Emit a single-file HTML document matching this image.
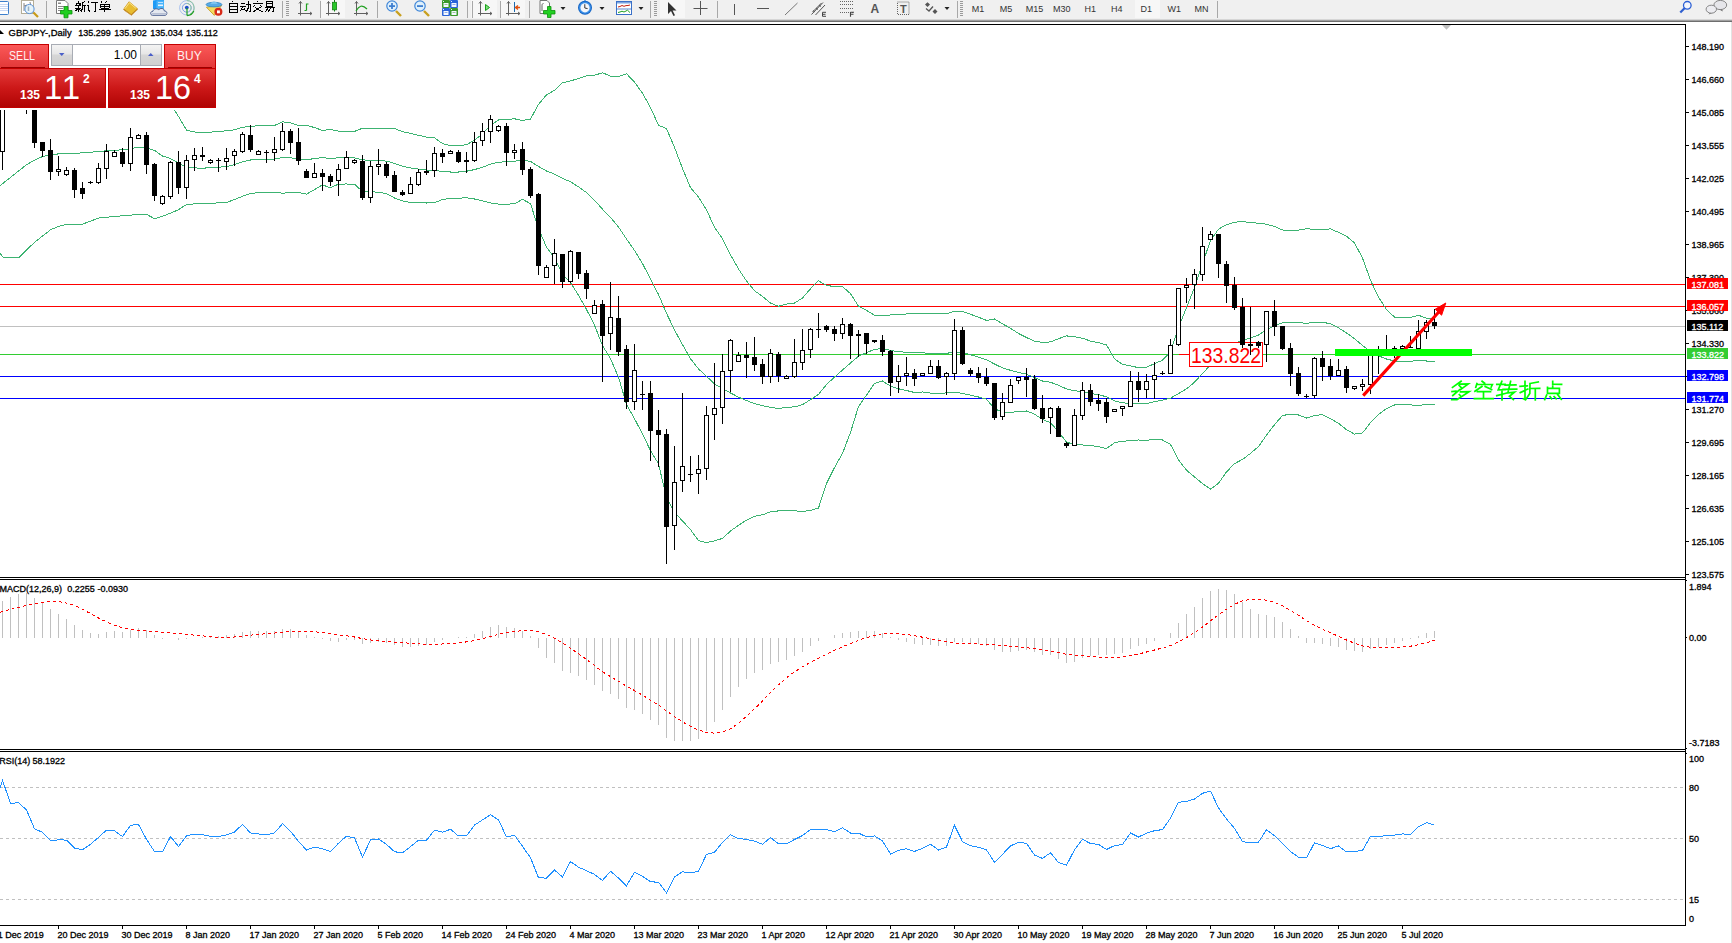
<!DOCTYPE html>
<html><head><meta charset="utf-8"><style>
html,body{margin:0;padding:0;}
body{width:1732px;height:943px;overflow:hidden;background:#fff;position:relative;font-family:"Liberation Sans", sans-serif;}
text{font-family:"Liberation Sans", sans-serif;}
#tb{position:absolute;left:0;top:0;width:1732px;height:19px;background:#f0f0f0;}
svg{position:absolute;left:0;top:0;}
</style></head><body>
<div id="tb"></div>
<svg width="1732" height="943" viewBox="0 0 1732 943">
<g shape-rendering="crispEdges">
<rect x="0" y="19" width="1732" height="1" fill="#d6d6d6"/>
<rect x="0" y="20" width="1732" height="1" fill="#a0a0a0"/>
<rect x="0" y="21" width="1732" height="1" fill="#6e6e6e"/>
<rect x="1731" y="22" width="1" height="921" fill="#e3e3e3"/>
</g>
<g shape-rendering="crispEdges"><rect x="0" y="284" width="1685" height="1" fill="#ff0000"/><rect x="0" y="306" width="1685" height="1" fill="#ff0000"/><rect x="0" y="326" width="1685" height="1" fill="#c0c0c0"/><rect x="0" y="354" width="1685" height="1" fill="#32cd32"/><rect x="0" y="376" width="1685" height="1" fill="#0000ff"/><rect x="0" y="398" width="1685" height="1" fill="#0000ff"/></g>
<g shape-rendering="crispEdges"><polyline points="0,185.7 2.5,183.7 10.5,177.4 18.5,171.1 26.5,164.8 34.5,160.1 42.5,156.6 50.5,154.8 58.5,153.9 66.5,153.6 74.5,153.2 82.5,152.9 90.5,152.3 98.5,151.5 106.5,150.8 114.5,150.3 122.5,149.8 130.5,148.6 138.5,147.3 146.5,147.9 154.5,150.4 162.5,156 170.5,158.6 178.5,163.1 186.5,167.3 194.5,167.9 202.5,168.2 210.5,167.7 218.5,167.2 226.5,166.6 234.5,164.7 242.5,161.7 250.5,160 258.5,159.2 266.5,159.3 274.5,159.1 282.5,157.5 290.5,157.8 298.5,159 306.5,159.7 314.5,158.6 322.5,157.6 330.5,158.6 338.5,157.7 346.5,157.6 354.5,157.8 362.5,159.9 370.5,160.2 378.5,160.3 386.5,161.2 394.5,163.3 402.5,166.3 410.5,168 418.5,169.1 426.5,170.1 434.5,170.3 442.5,171.5 450.5,172 458.5,172 466.5,171.2 474.5,169.6 482.5,167.3 490.5,164.2 498.5,162.1 506.5,161.9 514.5,161.3 522.5,159.9 530.5,161.4 538.5,166.5 546.5,171 554.5,174.1 562.5,178.4 570.5,181.8 578.5,186.8 586.5,192.6 594.5,200.2 602.5,209.2 610.5,217.5 618.5,226.9 626.5,239 634.5,250.4 642.5,263.5 650.5,279.1 658.5,294.5 666.5,313.3 674.5,329.9 682.5,344.7 690.5,358.7 698.5,368.9 706.5,376.3 714.5,384 722.5,388.5 730.5,393 738.5,397.1 746.5,400.6 754.5,403.5 762.5,405.6 770.5,407.4 778.5,408.6 786.5,407.3 794.5,406.9 802.5,404.7 810.5,399.6 818.5,394.4 826.5,384.5 834.5,377.1 842.5,370 850.5,363 858.5,356.3 866.5,352.7 874.5,349.4 882.5,348.4 890.5,350.5 898.5,351.6 906.5,352.3 914.5,353 922.5,352.8 930.5,353.4 938.5,353.5 946.5,353.4 954.5,351.8 962.5,352.5 970.5,354.7 978.5,357.1 986.5,359.8 994.5,364 1002.5,367.9 1010.5,370.3 1018.5,372.4 1026.5,374.2 1034.5,377.6 1042.5,381 1050.5,382.2 1058.5,385.3 1066.5,388.9 1074.5,390.8 1082.5,391.6 1090.5,393.4 1098.5,394.7 1106.5,396.8 1114.5,400.8 1122.5,402.9 1130.5,403.2 1138.5,403.8 1146.5,403.7 1154.5,401.6 1162.5,400.1 1170.5,398.1 1178.5,393.6 1186.5,388.9 1194.5,382.2 1202.5,373.5 1210.5,364.9 1218.5,356.2 1226.5,348.3 1234.5,342.9 1242.5,340.6 1250.5,337.9 1258.5,335 1266.5,329.7 1274.5,325.6 1282.5,322.7 1290.5,322.4 1298.5,322.6 1306.5,323.3 1314.5,322.5 1322.5,322.2 1330.5,323.8 1338.5,327.8 1346.5,333 1354.5,338.6 1362.5,345.5 1370.5,351.4 1378.5,355.8 1386.5,359 1394.5,361 1402.5,361.1 1410.5,361.2 1418.5,360.5 1426.5,361 1434.5,361" fill="none" stroke="#3cb371" stroke-width="1" /><polyline points="0,118.5 2.5,110.5 10.5,97 18.5,84.4 26.5,79.5 34.5,77.9 42.5,77.2 50.5,79.9 58.5,81.4 66.5,82.8 74.5,82.2 82.5,81.6 90.5,83.5 98.5,84.9 106.5,84.3 114.5,84.1 122.5,83.9 130.5,82.2 138.5,80.1 146.5,81.6 154.5,82.2 162.5,95.7 170.5,104.1 178.5,116.5 186.5,130.1 194.5,132 202.5,132.8 210.5,132.1 218.5,131.6 226.5,130.7 234.5,129.9 242.5,127.2 250.5,126.5 258.5,125.7 266.5,125.8 274.5,125.5 282.5,121.9 290.5,122.7 298.5,125.6 306.5,125.3 314.5,127.6 322.5,130.4 330.5,129.5 338.5,131.2 346.5,131.1 354.5,131.4 362.5,128.2 370.5,128.4 378.5,128.5 386.5,128.8 394.5,128.5 402.5,131.6 410.5,133.4 418.5,135.3 426.5,137.1 434.5,137.8 442.5,143.6 450.5,145.6 458.5,145.7 466.5,144.7 474.5,140.3 482.5,133.8 490.5,125.4 498.5,120 506.5,119.6 514.5,118.8 522.5,120.5 530.5,119.1 538.5,104.3 546.5,94.9 554.5,90.3 562.5,82.7 570.5,80.9 578.5,78.5 586.5,75.9 594.5,75.2 602.5,72.8 610.5,76.1 618.5,76.6 626.5,73.7 634.5,82 642.5,93.3 650.5,107.5 658.5,125.2 666.5,128.7 674.5,147.3 682.5,168.5 690.5,187.7 698.5,197 706.5,209.9 714.5,227.2 722.5,238.7 730.5,254.9 738.5,268.9 746.5,280.9 754.5,290.7 762.5,296.4 770.5,303 778.5,306.3 786.5,304.1 794.5,303.1 802.5,298 810.5,288.8 818.5,280.8 826.5,285.4 834.5,286.6 842.5,286.6 850.5,293.7 858.5,306.2 866.5,310.3 874.5,315.3 882.5,315.8 890.5,315 898.5,314.3 906.5,314 914.5,313.4 922.5,313.6 930.5,313.8 938.5,313.6 946.5,313.8 954.5,311.2 962.5,311.6 970.5,314.3 978.5,317.2 986.5,320.4 994.5,319 1002.5,323.8 1010.5,328.3 1018.5,333.5 1026.5,337.5 1034.5,341.2 1042.5,342.4 1050.5,341.9 1058.5,338.7 1066.5,335.9 1074.5,336.8 1082.5,338.2 1090.5,341.1 1098.5,342.7 1106.5,345 1114.5,358.8 1122.5,364.5 1130.5,365.8 1138.5,367.7 1146.5,367.2 1154.5,363.7 1162.5,360.2 1170.5,351.7 1178.5,327.3 1186.5,307.6 1194.5,287.4 1202.5,263.5 1210.5,240.6 1218.5,229.1 1226.5,224.7 1234.5,222.1 1242.5,221.8 1250.5,222.3 1258.5,223.3 1266.5,224.2 1274.5,226.5 1282.5,230 1290.5,230.5 1298.5,230.1 1306.5,228.7 1314.5,229.4 1322.5,229.8 1330.5,228.8 1338.5,232.4 1346.5,236.2 1354.5,243 1362.5,258 1370.5,280.2 1378.5,297.1 1386.5,309.5 1394.5,317.1 1402.5,317.3 1410.5,317.5 1418.5,315.3 1426.5,318.1 1434.5,318" fill="none" stroke="#3cb371" stroke-width="1" /><polyline points="0,252.9 2.5,257 10.5,257.8 18.5,257.8 26.5,250.1 34.5,242.3 42.5,236.1 50.5,229.8 58.5,226.4 66.5,224.4 74.5,224.2 82.5,224.1 90.5,221.2 98.5,218.1 106.5,217.3 114.5,216.5 122.5,215.8 130.5,215.1 138.5,214.5 146.5,214.3 154.5,218.7 162.5,216.2 170.5,213.2 178.5,209.7 186.5,204.5 194.5,203.9 202.5,203.7 210.5,203.2 218.5,202.9 226.5,202.5 234.5,199.5 242.5,196.3 250.5,193.5 258.5,192.7 266.5,192.7 274.5,192.7 282.5,193.1 290.5,192.8 298.5,192.5 306.5,194.2 314.5,189.6 322.5,184.9 330.5,187.8 338.5,184.1 346.5,184 354.5,184.2 362.5,191.5 370.5,191.9 378.5,192.1 386.5,193.7 394.5,198 402.5,200.9 410.5,202.6 418.5,202.8 426.5,203 434.5,202.7 442.5,199.5 450.5,198.4 458.5,198.3 466.5,197.7 474.5,199 482.5,200.9 490.5,203 498.5,204.1 506.5,204.1 514.5,203.9 522.5,199.3 530.5,203.7 538.5,228.6 546.5,247.2 554.5,257.9 562.5,274.2 570.5,282.6 578.5,295.2 586.5,309.4 594.5,325.2 602.5,345.5 610.5,358.8 618.5,377.2 626.5,404.3 634.5,418.8 642.5,433.8 650.5,450.7 658.5,463.8 666.5,497.9 674.5,512.5 682.5,520.9 690.5,529.6 698.5,540.7 706.5,542.6 714.5,540.9 722.5,538.4 730.5,531.1 738.5,525.2 746.5,520.2 754.5,516.3 762.5,514.8 770.5,511.8 778.5,510.9 786.5,510.6 794.5,510.8 802.5,511.4 810.5,510.5 818.5,508 826.5,483.6 834.5,467.6 842.5,453.4 850.5,432.4 858.5,406.5 866.5,395.2 874.5,383.5 882.5,381 890.5,386.1 898.5,388.8 906.5,390.5 914.5,392.5 922.5,392 930.5,393.1 938.5,393.4 946.5,392.9 954.5,392.3 962.5,393.4 970.5,395.1 978.5,397 986.5,399.2 994.5,408.9 1002.5,411.9 1010.5,412.4 1018.5,411.4 1026.5,411 1034.5,414.1 1042.5,419.5 1050.5,422.6 1058.5,431.9 1066.5,442 1074.5,444.7 1082.5,445 1090.5,445.6 1098.5,446.6 1106.5,448.6 1114.5,442.7 1122.5,441.3 1130.5,440.7 1138.5,440 1146.5,440.2 1154.5,439.5 1162.5,440 1170.5,444.4 1178.5,459.9 1186.5,470.2 1194.5,476.9 1202.5,483.6 1210.5,489.1 1218.5,483.3 1226.5,471.9 1234.5,463.7 1242.5,459.4 1250.5,453.4 1258.5,446.6 1266.5,435.2 1274.5,424.7 1282.5,415.5 1290.5,414.2 1298.5,415 1306.5,418 1314.5,415.5 1322.5,414.6 1330.5,418.7 1338.5,423.3 1346.5,429.7 1354.5,434.1 1362.5,433 1370.5,422.5 1378.5,414.5 1386.5,408.5 1394.5,405 1402.5,404.9 1410.5,404.9 1418.5,405.7 1426.5,404 1434.5,404" fill="none" stroke="#3cb371" stroke-width="1" /></g>
<g shape-rendering="crispEdges">
<rect x="1179" y="354" width="11" height="1" fill="#ff0000"/>
<rect x="1189.5" y="342.5" width="73" height="24" fill="#fff" stroke="#ff0000" stroke-width="1"/>
</g>
<text x="1191" y="363" font-size="22" fill="#ff0000" class="pt" textLength="70" lengthAdjust="spacingAndGlyphs">133.822</text>
<g shape-rendering="crispEdges"><g fill="#000"><rect x="2" y="60" width="1" height="110"/><rect x="0" y="100" width="5" height="52"/><rect x="1" y="101" width="3" height="50" fill="#fff"/><rect x="10" y="60" width="1" height="42"/><rect x="8" y="70" width="5" height="25"/><rect x="9" y="71" width="3" height="23" fill="#fff"/><rect x="18" y="62" width="1" height="38"/><rect x="16" y="70" width="5" height="22"/><rect x="26" y="110" width="1" height="4"/><rect x="24" y="103" width="5" height="1"/><rect x="34" y="110" width="1" height="38"/><rect x="32" y="110" width="5" height="33"/><rect x="42" y="142" width="1" height="15"/><rect x="40" y="142" width="5" height="9"/><rect x="50" y="139" width="1" height="41"/><rect x="48" y="150" width="5" height="22"/><rect x="58" y="156" width="1" height="20"/><rect x="56" y="169" width="5" height="3"/><rect x="57" y="170" width="3" height="1" fill="#fff"/><rect x="66" y="167" width="1" height="9"/><rect x="64" y="170" width="5" height="5"/><rect x="65" y="171" width="3" height="3" fill="#fff"/><rect x="74" y="168" width="1" height="30"/><rect x="72" y="170" width="5" height="20"/><rect x="82" y="182" width="1" height="17"/><rect x="80" y="188" width="5" height="6"/><rect x="90" y="181" width="1" height="3"/><rect x="88" y="182" width="5" height="1"/><rect x="98" y="163" width="1" height="21"/><rect x="96" y="168" width="5" height="15"/><rect x="97" y="169" width="3" height="13" fill="#fff"/><rect x="106" y="144" width="1" height="35"/><rect x="104" y="151" width="5" height="18"/><rect x="105" y="152" width="3" height="16" fill="#fff"/><rect x="114" y="150" width="1" height="7"/><rect x="112" y="152" width="5" height="5"/><rect x="113" y="153" width="3" height="3" fill="#fff"/><rect x="122" y="148" width="1" height="19"/><rect x="120" y="152" width="5" height="12"/><rect x="130" y="128" width="1" height="43"/><rect x="128" y="137" width="5" height="27"/><rect x="129" y="138" width="3" height="25" fill="#fff"/><rect x="138" y="134" width="1" height="5"/><rect x="136" y="135" width="5" height="4"/><rect x="137" y="136" width="3" height="2" fill="#fff"/><rect x="146" y="132" width="1" height="42"/><rect x="144" y="135" width="5" height="30"/><rect x="154" y="163" width="1" height="38"/><rect x="152" y="164" width="5" height="32"/><rect x="162" y="195" width="1" height="10"/><rect x="160" y="196" width="5" height="8"/><rect x="161" y="197" width="3" height="6" fill="#fff"/><rect x="170" y="161" width="1" height="38"/><rect x="168" y="162" width="5" height="35"/><rect x="169" y="163" width="3" height="33" fill="#fff"/><rect x="178" y="151" width="1" height="43"/><rect x="176" y="162" width="5" height="26"/><rect x="186" y="155" width="1" height="44"/><rect x="184" y="160" width="5" height="28"/><rect x="185" y="161" width="3" height="26" fill="#fff"/><rect x="194" y="148" width="1" height="23"/><rect x="192" y="155" width="5" height="5"/><rect x="193" y="156" width="3" height="3" fill="#fff"/><rect x="202" y="147" width="1" height="14"/><rect x="200" y="155" width="5" height="2"/><rect x="210" y="159" width="1" height="5"/><rect x="208" y="160" width="5" height="3"/><rect x="209" y="161" width="3" height="1" fill="#fff"/><rect x="218" y="158" width="1" height="14"/><rect x="216" y="160" width="5" height="1"/><rect x="226" y="148" width="1" height="22"/><rect x="224" y="158" width="5" height="4"/><rect x="225" y="159" width="3" height="2" fill="#fff"/><rect x="234" y="149" width="1" height="17"/><rect x="232" y="151" width="5" height="5"/><rect x="233" y="152" width="3" height="3" fill="#fff"/><rect x="242" y="132" width="1" height="21"/><rect x="240" y="134" width="5" height="18"/><rect x="241" y="135" width="3" height="16" fill="#fff"/><rect x="250" y="125" width="1" height="27"/><rect x="248" y="135" width="5" height="15"/><rect x="258" y="150" width="1" height="5"/><rect x="256" y="151" width="5" height="4"/><rect x="257" y="152" width="3" height="2" fill="#fff"/><rect x="266" y="150" width="1" height="13"/><rect x="264" y="152" width="5" height="1"/><rect x="274" y="137" width="1" height="24"/><rect x="272" y="149" width="5" height="4"/><rect x="273" y="150" width="3" height="2" fill="#fff"/><rect x="282" y="123" width="1" height="28"/><rect x="280" y="131" width="5" height="19"/><rect x="281" y="132" width="3" height="17" fill="#fff"/><rect x="290" y="129" width="1" height="25"/><rect x="288" y="131" width="5" height="12"/><rect x="298" y="128" width="1" height="37"/><rect x="296" y="142" width="5" height="19"/><rect x="306" y="169" width="1" height="9"/><rect x="304" y="171" width="5" height="7"/><rect x="314" y="163" width="1" height="15"/><rect x="312" y="173" width="5" height="5"/><rect x="313" y="174" width="3" height="3" fill="#fff"/><rect x="322" y="169" width="1" height="22"/><rect x="320" y="173" width="5" height="4"/><rect x="330" y="174" width="1" height="12"/><rect x="328" y="176" width="5" height="6"/><rect x="338" y="164" width="1" height="32"/><rect x="336" y="169" width="5" height="12"/><rect x="337" y="170" width="3" height="10" fill="#fff"/><rect x="346" y="151" width="1" height="18"/><rect x="344" y="157" width="5" height="12"/><rect x="345" y="158" width="3" height="10" fill="#fff"/><rect x="354" y="159" width="1" height="5"/><rect x="352" y="160" width="5" height="3"/><rect x="353" y="161" width="3" height="1" fill="#fff"/><rect x="362" y="155" width="1" height="45"/><rect x="360" y="161" width="5" height="37"/><rect x="370" y="161" width="1" height="42"/><rect x="368" y="166" width="5" height="32"/><rect x="369" y="167" width="3" height="30" fill="#fff"/><rect x="378" y="149" width="1" height="26"/><rect x="376" y="164" width="5" height="3"/><rect x="377" y="165" width="3" height="1" fill="#fff"/><rect x="386" y="162" width="1" height="16"/><rect x="384" y="164" width="5" height="12"/><rect x="394" y="171" width="1" height="21"/><rect x="392" y="175" width="5" height="17"/><rect x="402" y="190" width="1" height="6"/><rect x="400" y="192" width="5" height="3"/><rect x="410" y="177" width="1" height="17"/><rect x="408" y="184" width="5" height="10"/><rect x="409" y="185" width="3" height="8" fill="#fff"/><rect x="418" y="169" width="1" height="17"/><rect x="416" y="172" width="5" height="13"/><rect x="417" y="173" width="3" height="11" fill="#fff"/><rect x="426" y="160" width="1" height="15"/><rect x="424" y="171" width="5" height="2"/><rect x="434" y="147" width="1" height="30"/><rect x="432" y="153" width="5" height="18"/><rect x="433" y="154" width="3" height="16" fill="#fff"/><rect x="442" y="149" width="1" height="14"/><rect x="440" y="153" width="5" height="4"/><rect x="450" y="150" width="1" height="4"/><rect x="448" y="151" width="5" height="3"/><rect x="449" y="152" width="3" height="1" fill="#fff"/><rect x="458" y="150" width="1" height="13"/><rect x="456" y="152" width="5" height="10"/><rect x="466" y="152" width="1" height="21"/><rect x="464" y="160" width="5" height="2"/><rect x="474" y="132" width="1" height="30"/><rect x="472" y="142" width="5" height="19"/><rect x="473" y="143" width="3" height="17" fill="#fff"/><rect x="482" y="123" width="1" height="23"/><rect x="480" y="131" width="5" height="10"/><rect x="481" y="132" width="3" height="8" fill="#fff"/><rect x="490" y="115" width="1" height="28"/><rect x="488" y="119" width="5" height="13"/><rect x="489" y="120" width="3" height="11" fill="#fff"/><rect x="498" y="125" width="1" height="7"/><rect x="496" y="126" width="5" height="5"/><rect x="497" y="127" width="3" height="3" fill="#fff"/><rect x="506" y="123" width="1" height="43"/><rect x="504" y="126" width="5" height="27"/><rect x="514" y="144" width="1" height="15"/><rect x="512" y="150" width="5" height="3"/><rect x="513" y="151" width="3" height="1" fill="#fff"/><rect x="522" y="142" width="1" height="33"/><rect x="520" y="149" width="5" height="21"/><rect x="530" y="167" width="1" height="31"/><rect x="528" y="169" width="5" height="27"/><rect x="538" y="193" width="1" height="82"/><rect x="536" y="194" width="5" height="72"/><rect x="546" y="265" width="1" height="13"/><rect x="544" y="267" width="5" height="11"/><rect x="545" y="268" width="3" height="9" fill="#fff"/><rect x="554" y="239" width="1" height="45"/><rect x="552" y="253" width="5" height="13"/><rect x="553" y="254" width="3" height="11" fill="#fff"/><rect x="562" y="254" width="1" height="34"/><rect x="560" y="254" width="5" height="28"/><rect x="570" y="250" width="1" height="33"/><rect x="568" y="251" width="5" height="31"/><rect x="569" y="252" width="3" height="29" fill="#fff"/><rect x="578" y="252" width="1" height="27"/><rect x="576" y="252" width="5" height="22"/><rect x="586" y="270" width="1" height="29"/><rect x="584" y="273" width="5" height="16"/><rect x="594" y="300" width="1" height="14"/><rect x="592" y="305" width="5" height="9"/><rect x="593" y="306" width="3" height="7" fill="#fff"/><rect x="602" y="300" width="1" height="82"/><rect x="600" y="304" width="5" height="32"/><rect x="610" y="282" width="1" height="68"/><rect x="608" y="317" width="5" height="17"/><rect x="609" y="318" width="3" height="15" fill="#fff"/><rect x="618" y="296" width="1" height="60"/><rect x="616" y="318" width="5" height="34"/><rect x="626" y="345" width="1" height="64"/><rect x="624" y="349" width="5" height="53"/><rect x="634" y="344" width="1" height="66"/><rect x="632" y="370" width="5" height="32"/><rect x="633" y="371" width="3" height="30" fill="#fff"/><rect x="642" y="381" width="1" height="29"/><rect x="640" y="394" width="5" height="1"/><rect x="650" y="381" width="1" height="80"/><rect x="648" y="393" width="5" height="38"/><rect x="658" y="410" width="1" height="57"/><rect x="656" y="430" width="5" height="5"/><rect x="666" y="429" width="1" height="135"/><rect x="664" y="434" width="5" height="93"/><rect x="674" y="446" width="1" height="104"/><rect x="672" y="482" width="5" height="44"/><rect x="673" y="483" width="3" height="42" fill="#fff"/><rect x="682" y="393" width="1" height="99"/><rect x="680" y="466" width="5" height="15"/><rect x="681" y="467" width="3" height="13" fill="#fff"/><rect x="690" y="456" width="1" height="26"/><rect x="688" y="474" width="5" height="1"/><rect x="698" y="455" width="1" height="39"/><rect x="696" y="469" width="5" height="5"/><rect x="697" y="470" width="3" height="3" fill="#fff"/><rect x="706" y="406" width="1" height="74"/><rect x="704" y="415" width="5" height="54"/><rect x="705" y="416" width="3" height="52" fill="#fff"/><rect x="714" y="363" width="1" height="77"/><rect x="712" y="408" width="5" height="7"/><rect x="713" y="409" width="3" height="5" fill="#fff"/><rect x="722" y="354" width="1" height="70"/><rect x="720" y="371" width="5" height="37"/><rect x="721" y="372" width="3" height="35" fill="#fff"/><rect x="730" y="339" width="1" height="53"/><rect x="728" y="340" width="5" height="31"/><rect x="729" y="341" width="3" height="29" fill="#fff"/><rect x="738" y="352" width="1" height="10"/><rect x="736" y="355" width="5" height="7"/><rect x="737" y="356" width="3" height="5" fill="#fff"/><rect x="746" y="342" width="1" height="36"/><rect x="744" y="355" width="5" height="3"/><rect x="754" y="337" width="1" height="34"/><rect x="752" y="357" width="5" height="8"/><rect x="762" y="359" width="1" height="25"/><rect x="760" y="364" width="5" height="13"/><rect x="770" y="349" width="1" height="34"/><rect x="768" y="353" width="5" height="24"/><rect x="769" y="354" width="3" height="22" fill="#fff"/><rect x="778" y="352" width="1" height="30"/><rect x="776" y="354" width="5" height="22"/><rect x="786" y="375" width="1" height="4"/><rect x="784" y="376" width="5" height="3"/><rect x="785" y="377" width="3" height="1" fill="#fff"/><rect x="794" y="339" width="1" height="39"/><rect x="792" y="362" width="5" height="15"/><rect x="793" y="363" width="3" height="13" fill="#fff"/><rect x="802" y="329" width="1" height="41"/><rect x="800" y="350" width="5" height="13"/><rect x="801" y="351" width="3" height="11" fill="#fff"/><rect x="810" y="328" width="1" height="30"/><rect x="808" y="329" width="5" height="21"/><rect x="809" y="330" width="3" height="19" fill="#fff"/><rect x="818" y="313" width="1" height="25"/><rect x="816" y="329" width="5" height="1"/><rect x="826" y="325" width="1" height="7"/><rect x="824" y="326" width="5" height="4"/><rect x="834" y="326" width="1" height="15"/><rect x="832" y="329" width="5" height="5"/><rect x="842" y="318" width="1" height="21"/><rect x="840" y="324" width="5" height="10"/><rect x="841" y="325" width="3" height="8" fill="#fff"/><rect x="850" y="323" width="1" height="36"/><rect x="848" y="324" width="5" height="12"/><rect x="858" y="330" width="1" height="27"/><rect x="856" y="334" width="5" height="2"/><rect x="866" y="333" width="1" height="21"/><rect x="864" y="333" width="5" height="11"/><rect x="874" y="340" width="1" height="3"/><rect x="872" y="340" width="5" height="2"/><rect x="882" y="335" width="1" height="21"/><rect x="880" y="340" width="5" height="12"/><rect x="890" y="350" width="1" height="46"/><rect x="888" y="351" width="5" height="32"/><rect x="898" y="365" width="1" height="28"/><rect x="896" y="376" width="5" height="6"/><rect x="897" y="377" width="3" height="4" fill="#fff"/><rect x="906" y="357" width="1" height="29"/><rect x="904" y="373" width="5" height="3"/><rect x="905" y="374" width="3" height="1" fill="#fff"/><rect x="914" y="369" width="1" height="17"/><rect x="912" y="373" width="5" height="6"/><rect x="922" y="373" width="1" height="3"/><rect x="920" y="373" width="5" height="3"/><rect x="921" y="374" width="3" height="1" fill="#fff"/><rect x="930" y="360" width="1" height="14"/><rect x="928" y="366" width="5" height="8"/><rect x="929" y="367" width="3" height="6" fill="#fff"/><rect x="938" y="360" width="1" height="19"/><rect x="936" y="366" width="5" height="12"/><rect x="946" y="372" width="1" height="23"/><rect x="944" y="373" width="5" height="4"/><rect x="945" y="374" width="3" height="2" fill="#fff"/><rect x="954" y="319" width="1" height="61"/><rect x="952" y="330" width="5" height="44"/><rect x="953" y="331" width="3" height="42" fill="#fff"/><rect x="962" y="327" width="1" height="38"/><rect x="960" y="330" width="5" height="34"/><rect x="970" y="368" width="1" height="8"/><rect x="968" y="370" width="5" height="4"/><rect x="978" y="367" width="1" height="16"/><rect x="976" y="373" width="5" height="5"/><rect x="986" y="368" width="1" height="18"/><rect x="984" y="377" width="5" height="7"/><rect x="994" y="383" width="1" height="37"/><rect x="992" y="383" width="5" height="35"/><rect x="1002" y="393" width="1" height="27"/><rect x="1000" y="402" width="5" height="15"/><rect x="1001" y="403" width="3" height="13" fill="#fff"/><rect x="1010" y="379" width="1" height="24"/><rect x="1008" y="385" width="5" height="18"/><rect x="1009" y="386" width="3" height="16" fill="#fff"/><rect x="1018" y="377" width="1" height="7"/><rect x="1016" y="377" width="5" height="4"/><rect x="1017" y="378" width="3" height="2" fill="#fff"/><rect x="1026" y="368" width="1" height="29"/><rect x="1024" y="377" width="5" height="3"/><rect x="1034" y="375" width="1" height="35"/><rect x="1032" y="379" width="5" height="30"/><rect x="1042" y="395" width="1" height="28"/><rect x="1040" y="408" width="5" height="11"/><rect x="1050" y="407" width="1" height="27"/><rect x="1048" y="408" width="5" height="10"/><rect x="1049" y="409" width="3" height="8" fill="#fff"/><rect x="1058" y="406" width="1" height="31"/><rect x="1056" y="408" width="5" height="29"/><rect x="1066" y="442" width="1" height="6"/><rect x="1064" y="443" width="5" height="3"/><rect x="1074" y="409" width="1" height="37"/><rect x="1072" y="415" width="5" height="31"/><rect x="1073" y="416" width="3" height="29" fill="#fff"/><rect x="1082" y="382" width="1" height="38"/><rect x="1080" y="390" width="5" height="26"/><rect x="1081" y="391" width="3" height="24" fill="#fff"/><rect x="1090" y="384" width="1" height="22"/><rect x="1088" y="390" width="5" height="12"/><rect x="1098" y="394" width="1" height="17"/><rect x="1096" y="400" width="5" height="4"/><rect x="1106" y="398" width="1" height="25"/><rect x="1104" y="402" width="5" height="15"/><rect x="1114" y="409" width="1" height="2"/><rect x="1112" y="409" width="5" height="3"/><rect x="1113" y="410" width="3" height="1" fill="#fff"/><rect x="1122" y="406" width="1" height="10"/><rect x="1120" y="406" width="5" height="3"/><rect x="1121" y="407" width="3" height="1" fill="#fff"/><rect x="1130" y="371" width="1" height="36"/><rect x="1128" y="381" width="5" height="26"/><rect x="1129" y="382" width="3" height="24" fill="#fff"/><rect x="1138" y="372" width="1" height="30"/><rect x="1136" y="381" width="5" height="9"/><rect x="1146" y="374" width="1" height="24"/><rect x="1144" y="381" width="5" height="9"/><rect x="1145" y="382" width="3" height="7" fill="#fff"/><rect x="1154" y="362" width="1" height="37"/><rect x="1152" y="375" width="5" height="5"/><rect x="1153" y="376" width="3" height="3" fill="#fff"/><rect x="1162" y="371" width="1" height="4"/><rect x="1160" y="373" width="5" height="1"/><rect x="1170" y="339" width="1" height="35"/><rect x="1168" y="345" width="5" height="29"/><rect x="1169" y="346" width="3" height="27" fill="#fff"/><rect x="1178" y="288" width="1" height="58"/><rect x="1176" y="288" width="5" height="57"/><rect x="1177" y="289" width="3" height="55" fill="#fff"/><rect x="1186" y="278" width="1" height="25"/><rect x="1184" y="285" width="5" height="3"/><rect x="1185" y="286" width="3" height="1" fill="#fff"/><rect x="1194" y="269" width="1" height="40"/><rect x="1192" y="274" width="5" height="11"/><rect x="1193" y="275" width="3" height="9" fill="#fff"/><rect x="1202" y="227" width="1" height="54"/><rect x="1200" y="246" width="5" height="29"/><rect x="1201" y="247" width="3" height="27" fill="#fff"/><rect x="1210" y="231" width="1" height="9"/><rect x="1208" y="234" width="5" height="6"/><rect x="1209" y="235" width="3" height="4" fill="#fff"/><rect x="1218" y="234" width="1" height="44"/><rect x="1216" y="234" width="5" height="30"/><rect x="1226" y="261" width="1" height="42"/><rect x="1224" y="264" width="5" height="22"/><rect x="1234" y="277" width="1" height="33"/><rect x="1232" y="285" width="5" height="23"/><rect x="1242" y="298" width="1" height="50"/><rect x="1240" y="307" width="5" height="38"/><rect x="1250" y="307" width="1" height="48"/><rect x="1248" y="344" width="5" height="2"/><rect x="1258" y="341" width="1" height="7"/><rect x="1256" y="342" width="5" height="4"/><rect x="1266" y="311" width="1" height="51"/><rect x="1264" y="311" width="5" height="34"/><rect x="1265" y="312" width="3" height="32" fill="#fff"/><rect x="1274" y="300" width="1" height="36"/><rect x="1272" y="311" width="5" height="16"/><rect x="1282" y="326" width="1" height="24"/><rect x="1280" y="326" width="5" height="23"/><rect x="1290" y="343" width="1" height="43"/><rect x="1288" y="348" width="5" height="26"/><rect x="1298" y="367" width="1" height="29"/><rect x="1296" y="373" width="5" height="21"/><rect x="1306" y="394" width="1" height="4"/><rect x="1304" y="396" width="5" height="1"/><rect x="1314" y="357" width="1" height="41"/><rect x="1312" y="358" width="5" height="38"/><rect x="1313" y="359" width="3" height="36" fill="#fff"/><rect x="1322" y="351" width="1" height="30"/><rect x="1320" y="358" width="5" height="9"/><rect x="1330" y="359" width="1" height="21"/><rect x="1328" y="366" width="5" height="10"/><rect x="1338" y="359" width="1" height="17"/><rect x="1336" y="370" width="5" height="6"/><rect x="1337" y="371" width="3" height="4" fill="#fff"/><rect x="1346" y="366" width="1" height="27"/><rect x="1344" y="369" width="5" height="19"/><rect x="1354" y="386" width="1" height="4"/><rect x="1352" y="386" width="5" height="3"/><rect x="1353" y="387" width="3" height="1" fill="#fff"/><rect x="1362" y="379" width="1" height="12"/><rect x="1360" y="384" width="5" height="3"/><rect x="1361" y="385" width="3" height="1" fill="#fff"/><rect x="1370" y="350" width="1" height="44"/><rect x="1368" y="352" width="5" height="33"/><rect x="1369" y="353" width="3" height="31" fill="#fff"/><rect x="1378" y="346" width="1" height="28"/><rect x="1376" y="352" width="5" height="1"/><rect x="1386" y="335" width="1" height="20"/><rect x="1384" y="350" width="5" height="4"/><rect x="1385" y="351" width="3" height="2" fill="#fff"/><rect x="1394" y="346" width="1" height="12"/><rect x="1392" y="348" width="5" height="1"/><rect x="1402" y="345" width="1" height="4"/><rect x="1400" y="346" width="5" height="3"/><rect x="1401" y="347" width="3" height="1" fill="#fff"/><rect x="1410" y="336" width="1" height="12"/><rect x="1408" y="347" width="5" height="1"/><rect x="1418" y="320" width="1" height="29"/><rect x="1416" y="331" width="5" height="18"/><rect x="1417" y="332" width="3" height="16" fill="#fff"/><rect x="1426" y="320" width="1" height="19"/><rect x="1424" y="322" width="5" height="10"/><rect x="1425" y="323" width="3" height="8" fill="#fff"/><rect x="1434" y="309" width="1" height="20"/><rect x="1432" y="322" width="5" height="4"/></g></g>
<g shape-rendering="auto">
<path d="M1363.2,395.6 L1439,311.8" stroke="#ff0000" stroke-width="3.1" fill="none" stroke-linecap="butt"/>
<path d="M1445.8,303 L1435.2,309.2 L1441.6,315.2 Z" fill="#ff0000" stroke="#ff0000" stroke-width="1"/>
</g>
<g shape-rendering="crispEdges">
<rect x="1335" y="349" width="137" height="7" fill="#00ff00"/>
</g>
<g shape-rendering="auto"><path d="M1461.1,381.3 L1452.5,387.4 M1459.4,384.1 L1468.3,384 L1460.5,389.6 M1459.1,385.4 L1461.4,387.8 M1459.7,389.6 L1452.8,395.5 M1452,391.6 L1456,391.2 M1460.5,391.9 L1469.1,391.7 L1457.5,399.3 M1459.3,394.6 L1461.1,396.5 M1451.7,399.5 L1457.5,399.3 M1482.1,381.3 L1484.6,383.2 M1476.9,383.5 L1475.8,387.3 M1476.9,384.3 L1492.4,384.5 L1491.2,387 M1481.9,386.5 L1474.9,391.3 M1485.2,386.5 L1491.6,389.6 M1477.4,391.6 L1490.5,391.6 M1483.5,391.6 L1483.5,398.4 M1474.4,398.6 L1493.2,398.6 M1496.8,384.4 L1505.1,384.4 M1501.8,381.3 L1498.2,389.9 L1505.1,389.6 M1502,389.9 L1502,399.8 M1496.8,395.6 L1505.1,393.5 M1505.1,385.2 L1515.9,384.9 M1510.6,381.3 L1507.9,392.7 M1503.1,389.4 L1516.7,389.1 M1506.5,393 L1514.5,392.1 L1509.4,396.3 L1513.4,399.6 M1520.1,386.3 L1527.3,385.8 M1525,381.3 L1525,399.6 L1523.5,398.8 M1520.3,392.6 L1527.8,389.1 M1538.3,381.9 L1530,383.5 M1530,383.5 L1529.8,393.5 L1525.9,399.3 M1530,388.5 L1539.7,388.3 M1535.3,388.5 L1535.3,399.8 M1552.7,381.3 L1552.7,388.3 M1552.7,384.1 L1561.6,384.4 M1547.5,387.4 L1547.5,393.5 M1547.5,388.3 L1559.4,388.3 L1559.4,393.3 M1547.5,393.3 L1559.4,393.3 M1546.6,395.2 L1544.7,399.6 M1550,396.6 L1551.6,398.7 M1554.1,396.6 L1556.1,398.7 M1557.7,394.6 L1561.3,399.3" fill="none" stroke="#00ff00" stroke-width="1.7" stroke-linecap="square" stroke-linejoin="miter"/></g>
<g shape-rendering="crispEdges"><g fill="#c0c0c0"><rect x="2" y="601.1" width="1" height="36.7"/><rect x="10" y="597" width="1" height="40.8"/><rect x="18" y="594.2" width="1" height="43.6"/><rect x="26" y="593.1" width="1" height="44.7"/><rect x="34" y="597.6" width="1" height="40.2"/><rect x="42" y="602.5" width="1" height="35.3"/><rect x="50" y="609" width="1" height="28.8"/><rect x="58" y="614.2" width="1" height="23.6"/><rect x="66" y="618.7" width="1" height="19.1"/><rect x="74" y="624.6" width="1" height="13.2"/><rect x="82" y="629.7" width="1" height="8.1"/><rect x="90" y="632.7" width="1" height="5.1"/><rect x="98" y="633.5" width="1" height="4.3"/><rect x="106" y="632.2" width="1" height="5.6"/><rect x="114" y="631.4" width="1" height="6.4"/><rect x="122" y="632.1" width="1" height="5.7"/><rect x="130" y="629.8" width="1" height="8"/><rect x="138" y="627.8" width="1" height="10"/><rect x="146" y="629.7" width="1" height="8.1"/><rect x="154" y="634.7" width="1" height="3.1"/><rect x="162" y="637.8" width="1" height="0.9"/><rect x="170" y="637.8" width="1" height="0.6"/><rect x="178" y="637.8" width="1" height="2.6"/><rect x="186" y="637.8" width="1" height="1.3"/><rect x="194" y="637.5" width="1" height="0.3"/><rect x="202" y="636.5" width="1" height="1.3"/><rect x="210" y="636.1" width="1" height="1.7"/><rect x="218" y="635.8" width="1" height="2"/><rect x="226" y="635.3" width="1" height="2.5"/><rect x="234" y="634.2" width="1" height="3.6"/><rect x="242" y="631.5" width="1" height="6.3"/><rect x="250" y="631.1" width="1" height="6.7"/><rect x="258" y="631.2" width="1" height="6.6"/><rect x="266" y="631.4" width="1" height="6.4"/><rect x="274" y="631.2" width="1" height="6.6"/><rect x="282" y="629.2" width="1" height="8.6"/><rect x="290" y="629" width="1" height="8.8"/><rect x="298" y="631" width="1" height="6.8"/><rect x="306" y="634.5" width="1" height="3.3"/><rect x="314" y="636.8" width="1" height="1"/><rect x="322" y="637.8" width="1" height="1.1"/><rect x="330" y="637.8" width="1" height="3.4"/><rect x="338" y="637.8" width="1" height="3.7"/><rect x="346" y="637.8" width="1" height="2.6"/><rect x="354" y="637.8" width="1" height="2"/><rect x="362" y="637.8" width="1" height="5.7"/><rect x="370" y="637.8" width="1" height="5"/><rect x="378" y="637.8" width="1" height="4.2"/><rect x="386" y="637.8" width="1" height="4.8"/><rect x="394" y="637.8" width="1" height="7"/><rect x="402" y="637.8" width="1" height="9"/><rect x="410" y="637.8" width="1" height="9.3"/><rect x="418" y="637.8" width="1" height="8"/><rect x="426" y="637.8" width="1" height="7"/><rect x="434" y="637.8" width="1" height="4"/><rect x="442" y="637.8" width="1" height="2"/><rect x="450" y="637.6" width="1" height="0.2"/><rect x="458" y="637" width="1" height="0.8"/><rect x="466" y="636.5" width="1" height="1.3"/><rect x="474" y="634" width="1" height="3.8"/><rect x="482" y="630.9" width="1" height="6.9"/><rect x="490" y="627.2" width="1" height="10.6"/><rect x="498" y="625.2" width="1" height="12.6"/><rect x="506" y="626.7" width="1" height="11.1"/><rect x="514" y="627.6" width="1" height="10.2"/><rect x="522" y="630.8" width="1" height="7"/><rect x="530" y="636.2" width="1" height="1.6"/><rect x="538" y="637.8" width="1" height="10.4"/><rect x="546" y="637.8" width="1" height="19.9"/><rect x="554" y="637.8" width="1" height="25.6"/><rect x="562" y="637.8" width="1" height="32.8"/><rect x="570" y="637.8" width="1" height="34.8"/><rect x="578" y="637.8" width="1" height="38.4"/><rect x="586" y="637.8" width="1" height="42.5"/><rect x="594" y="637.8" width="1" height="47.1"/><rect x="602" y="637.8" width="1" height="53.5"/><rect x="610" y="637.8" width="1" height="55.8"/><rect x="618" y="637.8" width="1" height="60.9"/><rect x="626" y="637.8" width="1" height="69.8"/><rect x="634" y="637.8" width="1" height="72.4"/><rect x="642" y="637.8" width="1" height="76.3"/><rect x="650" y="637.8" width="1" height="82.6"/><rect x="658" y="637.8" width="1" height="87"/><rect x="666" y="637.8" width="1" height="99.7"/><rect x="674" y="637.8" width="1" height="103.6"/><rect x="682" y="637.8" width="1" height="103.6"/><rect x="690" y="637.8" width="1" height="103.4"/><rect x="698" y="637.8" width="1" height="101.5"/><rect x="706" y="637.8" width="1" height="92.8"/><rect x="714" y="637.8" width="1" height="84.2"/><rect x="722" y="637.8" width="1" height="72.3"/><rect x="730" y="637.8" width="1" height="58.8"/><rect x="738" y="637.8" width="1" height="49.1"/><rect x="746" y="637.8" width="1" height="41.4"/><rect x="754" y="637.8" width="1" height="35.5"/><rect x="762" y="637.8" width="1" height="31.9"/><rect x="770" y="637.8" width="1" height="26.1"/><rect x="778" y="637.8" width="1" height="23.7"/><rect x="786" y="637.8" width="1" height="21.7"/><rect x="794" y="637.8" width="1" height="18.2"/><rect x="802" y="637.8" width="1" height="13.9"/><rect x="810" y="637.8" width="1" height="8.1"/><rect x="818" y="637.8" width="1" height="3.6"/><rect x="826" y="637.7" width="1" height="0.1"/><rect x="834" y="635.4" width="1" height="2.4"/><rect x="842" y="632.5" width="1" height="5.3"/><rect x="850" y="631.5" width="1" height="6.3"/><rect x="858" y="630.8" width="1" height="7"/><rect x="866" y="631.2" width="1" height="6.6"/><rect x="874" y="631.4" width="1" height="6.4"/><rect x="882" y="632.8" width="1" height="5"/><rect x="890" y="637.3" width="1" height="0.5"/><rect x="898" y="637.8" width="1" height="2.3"/><rect x="906" y="637.8" width="1" height="4.2"/><rect x="914" y="637.8" width="1" height="6.2"/><rect x="922" y="637.8" width="1" height="7.2"/><rect x="930" y="637.8" width="1" height="7.1"/><rect x="938" y="637.8" width="1" height="8.2"/><rect x="946" y="637.8" width="1" height="8.4"/><rect x="954" y="637.8" width="1" height="3.7"/><rect x="962" y="637.8" width="1" height="3.8"/><rect x="970" y="637.8" width="1" height="4.9"/><rect x="978" y="637.8" width="1" height="6.1"/><rect x="986" y="637.8" width="1" height="7.7"/><rect x="994" y="637.8" width="1" height="12.6"/><rect x="1002" y="637.8" width="1" height="14.6"/><rect x="1010" y="637.8" width="1" height="14.1"/><rect x="1018" y="637.8" width="1" height="12.7"/><rect x="1026" y="637.8" width="1" height="11.7"/><rect x="1034" y="637.8" width="1" height="14"/><rect x="1042" y="637.8" width="1" height="16.8"/><rect x="1050" y="637.8" width="1" height="17.6"/><rect x="1058" y="637.8" width="1" height="21.1"/><rect x="1066" y="637.8" width="1" height="24.7"/><rect x="1074" y="637.8" width="1" height="23.8"/><rect x="1082" y="637.8" width="1" height="20.1"/><rect x="1090" y="637.8" width="1" height="18.2"/><rect x="1098" y="637.8" width="1" height="16.8"/><rect x="1106" y="637.8" width="1" height="16.9"/><rect x="1114" y="637.8" width="1" height="15.9"/><rect x="1122" y="637.8" width="1" height="14.7"/><rect x="1130" y="637.8" width="1" height="10.7"/><rect x="1138" y="637.8" width="1" height="8.5"/><rect x="1146" y="637.8" width="1" height="5.7"/><rect x="1154" y="637.8" width="1" height="2.7"/><rect x="1162" y="637.8" width="1" height="0.6"/><rect x="1170" y="632.8" width="1" height="5"/><rect x="1178" y="622.5" width="1" height="15.3"/><rect x="1186" y="614.3" width="1" height="23.5"/><rect x="1194" y="607" width="1" height="30.8"/><rect x="1202" y="598.4" width="1" height="39.4"/><rect x="1210" y="590.8" width="1" height="47"/><rect x="1218" y="588.7" width="1" height="49.1"/><rect x="1226" y="590.1" width="1" height="47.7"/><rect x="1234" y="594.2" width="1" height="43.6"/><rect x="1242" y="601.9" width="1" height="35.9"/><rect x="1250" y="608.6" width="1" height="29.2"/><rect x="1258" y="614.1" width="1" height="23.7"/><rect x="1266" y="614.8" width="1" height="23"/><rect x="1274" y="617.4" width="1" height="20.4"/><rect x="1282" y="622.1" width="1" height="15.7"/><rect x="1290" y="628.7" width="1" height="9.1"/><rect x="1298" y="636.3" width="1" height="1.5"/><rect x="1306" y="637.8" width="1" height="4.7"/><rect x="1314" y="637.8" width="1" height="5.2"/><rect x="1322" y="637.8" width="1" height="6.5"/><rect x="1330" y="637.8" width="1" height="8.6"/><rect x="1338" y="637.8" width="1" height="9.3"/><rect x="1346" y="637.8" width="1" height="11.8"/><rect x="1354" y="637.8" width="1" height="13.5"/><rect x="1362" y="637.8" width="1" height="14.4"/><rect x="1370" y="637.8" width="1" height="11.4"/><rect x="1378" y="637.8" width="1" height="9"/><rect x="1386" y="637.8" width="1" height="6.7"/><rect x="1394" y="637.8" width="1" height="4.7"/><rect x="1402" y="637.8" width="1" height="2.8"/><rect x="1410" y="637.8" width="1" height="1.4"/><rect x="1418" y="636.3" width="1" height="1.5"/><rect x="1426" y="633" width="1" height="4.8"/><rect x="1434" y="630.9" width="1" height="6.9"/></g><polyline points="0,612.4 2.5,611.7 10.5,609.3 18.5,607.5 26.5,605.2 34.5,603.5 42.5,602.2 50.5,601.5 58.5,601.4 66.5,603.2 74.5,605.5 82.5,609.2 90.5,613.6 98.5,618 106.5,621.9 114.5,625.1 122.5,627.7 130.5,629.4 138.5,630.4 146.5,631 154.5,631.5 162.5,632.2 170.5,632.7 178.5,633.6 186.5,634.5 194.5,635.1 202.5,635.8 210.5,636.7 218.5,637.4 226.5,637.5 234.5,637 242.5,636.3 250.5,635.2 258.5,634.4 266.5,633.7 274.5,633.1 282.5,632.3 290.5,631.6 298.5,631.1 306.5,631.1 314.5,631.7 322.5,632.6 330.5,633.7 338.5,634.8 346.5,635.8 354.5,637 362.5,638.6 370.5,639.9 378.5,640.8 386.5,641.4 394.5,642.1 402.5,642.7 410.5,643.3 418.5,643.9 426.5,644.5 434.5,644.3 442.5,644 450.5,643.5 458.5,642.8 466.5,641.9 474.5,640.5 482.5,638.7 490.5,636.6 498.5,634.4 506.5,632.8 514.5,631.4 522.5,630.7 530.5,630.6 538.5,631.9 546.5,634.5 554.5,638.1 562.5,642.9 570.5,648.2 578.5,653.7 586.5,659.6 594.5,665.6 602.5,671.7 610.5,676.7 618.5,681.3 626.5,686.2 634.5,690.6 642.5,695.2 650.5,700.1 658.5,705.1 666.5,710.9 674.5,716.5 682.5,721.8 690.5,726.5 698.5,730 706.5,732.3 714.5,733.2 722.5,732 730.5,728.9 738.5,723.3 746.5,716.4 754.5,708.8 762.5,700.9 770.5,692.5 778.5,684.8 786.5,677.9 794.5,671.8 802.5,666.9 810.5,662.3 818.5,658.1 826.5,654.1 834.5,650.3 842.5,646.8 850.5,643.5 858.5,640.3 866.5,637.6 874.5,635.3 882.5,633.8 890.5,633.4 898.5,633.7 906.5,634.4 914.5,635.7 922.5,637.2 930.5,638.7 938.5,640.4 946.5,642 954.5,643 962.5,643.5 970.5,643.8 978.5,644 986.5,644.1 994.5,644.7 1002.5,645.6 1010.5,646.2 1018.5,646.7 1026.5,647.6 1034.5,648.7 1042.5,650 1050.5,651.3 1058.5,652.8 1066.5,654.2 1074.5,655.2 1082.5,655.9 1090.5,656.5 1098.5,657 1106.5,657.4 1114.5,657.3 1122.5,656.9 1130.5,655.8 1138.5,654 1146.5,652 1154.5,650 1162.5,648 1170.5,645.6 1178.5,642 1186.5,637.7 1194.5,632.6 1202.5,627 1210.5,620.9 1218.5,614.8 1226.5,609.2 1234.5,604.3 1242.5,600.9 1250.5,599.4 1258.5,599.3 1266.5,600.2 1274.5,602.3 1282.5,605.8 1290.5,610.2 1298.5,615.4 1306.5,620.7 1314.5,625.3 1322.5,629.3 1330.5,632.8 1338.5,636.4 1346.5,640 1354.5,643.2 1362.5,645.9 1370.5,647.3 1378.5,647.8 1386.5,647.9 1394.5,647.7 1402.5,647.1 1410.5,646.2 1418.5,644.7 1426.5,642.7 1434.5,640.3" fill="none" stroke="#ff0000" stroke-width="1" stroke-dasharray="3 3"/></g>
<g shape-rendering="crispEdges"><line x1="0" y1="787.5" x2="1685" y2="787.5" stroke="#c0c0c0" stroke-width="1" stroke-dasharray="3 3"/><line x1="0" y1="838.5" x2="1685" y2="838.5" stroke="#c0c0c0" stroke-width="1" stroke-dasharray="3 3"/><line x1="0" y1="899.5" x2="1685" y2="899.5" stroke="#c0c0c0" stroke-width="1" stroke-dasharray="3 3"/><polyline points="0,787.9 2.5,780.3 10.5,803.5 18.5,802.7 26.5,809.9 34.5,828.8 42.5,832.3 50.5,840.7 58.5,839.8 66.5,840.1 74.5,848.1 82.5,849.6 90.5,844.3 98.5,837.4 106.5,830.1 114.5,830.7 122.5,836.6 130.5,825.3 138.5,824.5 146.5,839.3 154.5,851.6 162.5,851.7 170.5,836.6 178.5,846.4 186.5,835.7 194.5,834.1 202.5,834.6 210.5,836.3 218.5,836.5 226.5,834.9 234.5,832 242.5,824.4 250.5,833 258.5,834 266.5,834.7 274.5,832.9 282.5,823.7 290.5,831.2 298.5,841.4 306.5,850.1 314.5,847.1 322.5,848.8 330.5,851.4 338.5,843.2 346.5,836.1 354.5,838 362.5,857.1 370.5,839.9 378.5,838.9 386.5,844.4 394.5,851.7 402.5,852.9 410.5,846.7 418.5,840.1 426.5,840.3 434.5,830.1 442.5,832.2 450.5,829.3 458.5,836 466.5,835.9 474.5,825.1 482.5,819.9 490.5,814.6 498.5,819.9 506.5,836.9 514.5,835.2 522.5,846.3 530.5,857.8 538.5,877.8 546.5,878.1 554.5,870.1 562.5,876.9 570.5,861.5 578.5,867.2 586.5,870.7 594.5,874.4 602.5,880.4 610.5,871.3 618.5,878 626.5,885.9 634.5,872.3 642.5,876.4 650.5,881.7 658.5,882.3 666.5,892.7 674.5,876.9 682.5,871.8 690.5,873 698.5,871.2 706.5,854.3 714.5,852.3 722.5,842.3 730.5,834.8 738.5,838.6 746.5,839.4 754.5,841.1 762.5,844.3 770.5,837.5 778.5,843.9 786.5,844 794.5,839.5 802.5,835.5 810.5,829.4 818.5,829.6 826.5,829.6 834.5,831.6 842.5,827.9 850.5,833 858.5,833 866.5,836.9 874.5,835.9 882.5,840.9 890.5,854.1 898.5,850.4 906.5,848.8 914.5,851.4 922.5,848.3 930.5,844.2 938.5,850 946.5,847 954.5,825.3 962.5,841.6 970.5,845.8 978.5,847.3 986.5,849.9 994.5,862.3 1002.5,854.3 1010.5,845.9 1018.5,842.3 1026.5,843.3 1034.5,855 1042.5,858.4 1050.5,852.8 1058.5,862.6 1066.5,865.3 1074.5,849.8 1082.5,839.3 1090.5,843.6 1098.5,844.4 1106.5,849.5 1114.5,845.6 1122.5,844.5 1130.5,833 1138.5,837 1146.5,833.2 1154.5,830.7 1162.5,829.6 1170.5,818.1 1178.5,802.2 1186.5,801.5 1194.5,799 1202.5,793.3 1210.5,791.1 1218.5,807.9 1226.5,819 1234.5,828.3 1242.5,841.8 1250.5,842.4 1258.5,842.1 1266.5,829.7 1274.5,835.7 1282.5,843.7 1290.5,851.5 1298.5,857.2 1306.5,857.9 1314.5,842.8 1322.5,845.5 1330.5,848.7 1338.5,845.9 1346.5,852 1354.5,851.4 1362.5,850.5 1370.5,836.4 1378.5,836.8 1386.5,835.5 1394.5,835.1 1402.5,833.9 1410.5,834.6 1418.5,826.6 1426.5,822.6 1434.5,825.3" fill="none" stroke="#1e90ff" stroke-width="1" /></g>
<g fill="#000" shape-rendering="crispEdges">
<rect x="0" y="24" width="1686" height="1"/>
<rect x="1685" y="24" width="1" height="902"/>
<rect x="0" y="577" width="1686" height="1"/>
<rect x="0" y="579" width="1686" height="1"/>
<rect x="0" y="749" width="1686" height="1"/>
<rect x="0" y="751" width="1686" height="1"/>
<rect x="0" y="925" width="1686" height="1"/>
</g>
<g fill="#000"><rect x="1685" y="46" width="4" height="1" fill="#000"/><text x="1691.5" y="50" font-size="9" fill="#000" stroke="#000" stroke-width="0.3" >148.190</text><rect x="1685" y="79" width="4" height="1" fill="#000"/><text x="1691.5" y="83" font-size="9" fill="#000" stroke="#000" stroke-width="0.3" >146.660</text><rect x="1685" y="112" width="4" height="1" fill="#000"/><text x="1691.5" y="116" font-size="9" fill="#000" stroke="#000" stroke-width="0.3" >145.085</text><rect x="1685" y="145" width="4" height="1" fill="#000"/><text x="1691.5" y="149" font-size="9" fill="#000" stroke="#000" stroke-width="0.3" >143.555</text><rect x="1685" y="178" width="4" height="1" fill="#000"/><text x="1691.5" y="182" font-size="9" fill="#000" stroke="#000" stroke-width="0.3" >142.025</text><rect x="1685" y="211" width="4" height="1" fill="#000"/><text x="1691.5" y="215" font-size="9" fill="#000" stroke="#000" stroke-width="0.3" >140.495</text><rect x="1685" y="244" width="4" height="1" fill="#000"/><text x="1691.5" y="248" font-size="9" fill="#000" stroke="#000" stroke-width="0.3" >138.965</text><rect x="1685" y="277" width="4" height="1" fill="#000"/><text x="1691.5" y="281" font-size="9" fill="#000" stroke="#000" stroke-width="0.3" >137.390</text><rect x="1685" y="310" width="4" height="1" fill="#000"/><text x="1691.5" y="314" font-size="9" fill="#000" stroke="#000" stroke-width="0.3" >135.860</text><rect x="1685" y="343" width="4" height="1" fill="#000"/><text x="1691.5" y="347" font-size="9" fill="#000" stroke="#000" stroke-width="0.3" >134.330</text><rect x="1685" y="376" width="4" height="1" fill="#000"/><text x="1691.5" y="380" font-size="9" fill="#000" stroke="#000" stroke-width="0.3" >132.800</text><rect x="1685" y="409" width="4" height="1" fill="#000"/><text x="1691.5" y="413" font-size="9" fill="#000" stroke="#000" stroke-width="0.3" >131.270</text><rect x="1685" y="442" width="4" height="1" fill="#000"/><text x="1691.5" y="446" font-size="9" fill="#000" stroke="#000" stroke-width="0.3" >129.695</text><rect x="1685" y="475" width="4" height="1" fill="#000"/><text x="1691.5" y="479" font-size="9" fill="#000" stroke="#000" stroke-width="0.3" >128.165</text><rect x="1685" y="508" width="4" height="1" fill="#000"/><text x="1691.5" y="512" font-size="9" fill="#000" stroke="#000" stroke-width="0.3" >126.635</text><rect x="1685" y="541" width="4" height="1" fill="#000"/><text x="1691.5" y="545" font-size="9" fill="#000" stroke="#000" stroke-width="0.3" >125.105</text><rect x="1685" y="574" width="4" height="1" fill="#000"/><text x="1691.5" y="578" font-size="9" fill="#000" stroke="#000" stroke-width="0.3" >123.575</text><rect x="1687" y="278" width="41" height="11" fill="#ff0000"/><text x="1691.5" y="288" font-size="9" fill="#fff" stroke="#fff" stroke-width="0.3" >137.081</text><rect x="1687" y="300" width="41" height="11" fill="#ff0000"/><text x="1691.5" y="310" font-size="9" fill="#fff" stroke="#fff" stroke-width="0.3" >136.057</text><rect x="1687" y="320" width="41" height="11" fill="#000000"/><text x="1691.5" y="330" font-size="9" fill="#fff" stroke="#fff" stroke-width="0.3" >135.112</text><rect x="1687" y="348" width="41" height="11" fill="#32cd32"/><text x="1691.5" y="358" font-size="9" fill="#fff" stroke="#fff" stroke-width="0.3" >133.822</text><rect x="1687" y="370" width="41" height="11" fill="#0000ff"/><text x="1691.5" y="380" font-size="9" fill="#fff" stroke="#fff" stroke-width="0.3" >132.798</text><rect x="1687" y="392" width="41" height="11" fill="#0000ff"/><text x="1691.5" y="402" font-size="9" fill="#fff" stroke="#fff" stroke-width="0.3" >131.774</text><rect x="1685" y="580" width="2" height="1"/><text x="1689" y="590" font-size="9" fill="#000" stroke="#000" stroke-width="0.3" >1.894</text><rect x="1685" y="637" width="2" height="1"/><text x="1689" y="641" font-size="9" fill="#000" stroke="#000" stroke-width="0.3" >0.00</text><rect x="1685" y="748" width="2" height="1"/><text x="1689" y="746" font-size="9" fill="#000" stroke="#000" stroke-width="0.3" >-3.7183</text><rect x="1685" y="753" width="2" height="1"/><text x="1689" y="762" font-size="9" fill="#000" stroke="#000" stroke-width="0.3" >100</text><text x="1689" y="791" font-size="9" fill="#000" stroke="#000" stroke-width="0.3" >80</text><text x="1689" y="842" font-size="9" fill="#000" stroke="#000" stroke-width="0.3" >50</text><text x="1689" y="903" font-size="9" fill="#000" stroke="#000" stroke-width="0.3" >15</text><text x="1689" y="922" font-size="9" fill="#000" stroke="#000" stroke-width="0.3" >0</text><rect x="-6" y="925" width="1" height="4"/><text x="-6.6" y="937.5" font-size="9" fill="#000" stroke="#000" stroke-width="0.3" >11 Dec 2019</text><rect x="58" y="925" width="1" height="4"/><text x="57.4" y="937.5" font-size="9" fill="#000" stroke="#000" stroke-width="0.3" >20 Dec 2019</text><rect x="122" y="925" width="1" height="4"/><text x="121.4" y="937.5" font-size="9" fill="#000" stroke="#000" stroke-width="0.3" >30 Dec 2019</text><rect x="186" y="925" width="1" height="4"/><text x="185.4" y="937.5" font-size="9" fill="#000" stroke="#000" stroke-width="0.3" >8 Jan 2020</text><rect x="250" y="925" width="1" height="4"/><text x="249.4" y="937.5" font-size="9" fill="#000" stroke="#000" stroke-width="0.3" >17 Jan 2020</text><rect x="314" y="925" width="1" height="4"/><text x="313.4" y="937.5" font-size="9" fill="#000" stroke="#000" stroke-width="0.3" >27 Jan 2020</text><rect x="378" y="925" width="1" height="4"/><text x="377.4" y="937.5" font-size="9" fill="#000" stroke="#000" stroke-width="0.3" >5 Feb 2020</text><rect x="442" y="925" width="1" height="4"/><text x="441.4" y="937.5" font-size="9" fill="#000" stroke="#000" stroke-width="0.3" >14 Feb 2020</text><rect x="506" y="925" width="1" height="4"/><text x="505.4" y="937.5" font-size="9" fill="#000" stroke="#000" stroke-width="0.3" >24 Feb 2020</text><rect x="570" y="925" width="1" height="4"/><text x="569.4" y="937.5" font-size="9" fill="#000" stroke="#000" stroke-width="0.3" >4 Mar 2020</text><rect x="634" y="925" width="1" height="4"/><text x="633.4" y="937.5" font-size="9" fill="#000" stroke="#000" stroke-width="0.3" >13 Mar 2020</text><rect x="698" y="925" width="1" height="4"/><text x="697.4" y="937.5" font-size="9" fill="#000" stroke="#000" stroke-width="0.3" >23 Mar 2020</text><rect x="762" y="925" width="1" height="4"/><text x="761.4" y="937.5" font-size="9" fill="#000" stroke="#000" stroke-width="0.3" >1 Apr 2020</text><rect x="826" y="925" width="1" height="4"/><text x="825.4" y="937.5" font-size="9" fill="#000" stroke="#000" stroke-width="0.3" >12 Apr 2020</text><rect x="890" y="925" width="1" height="4"/><text x="889.4" y="937.5" font-size="9" fill="#000" stroke="#000" stroke-width="0.3" >21 Apr 2020</text><rect x="954" y="925" width="1" height="4"/><text x="953.4" y="937.5" font-size="9" fill="#000" stroke="#000" stroke-width="0.3" >30 Apr 2020</text><rect x="1018" y="925" width="1" height="4"/><text x="1017.4" y="937.5" font-size="9" fill="#000" stroke="#000" stroke-width="0.3" >10 May 2020</text><rect x="1082" y="925" width="1" height="4"/><text x="1081.4" y="937.5" font-size="9" fill="#000" stroke="#000" stroke-width="0.3" >19 May 2020</text><rect x="1146" y="925" width="1" height="4"/><text x="1145.4" y="937.5" font-size="9" fill="#000" stroke="#000" stroke-width="0.3" >28 May 2020</text><rect x="1210" y="925" width="1" height="4"/><text x="1209.4" y="937.5" font-size="9" fill="#000" stroke="#000" stroke-width="0.3" >7 Jun 2020</text><rect x="1274" y="925" width="1" height="4"/><text x="1273.4" y="937.5" font-size="9" fill="#000" stroke="#000" stroke-width="0.3" >16 Jun 2020</text><rect x="1338" y="925" width="1" height="4"/><text x="1337.4" y="937.5" font-size="9" fill="#000" stroke="#000" stroke-width="0.3" >25 Jun 2020</text><rect x="1402" y="925" width="1" height="4"/><text x="1401.4" y="937.5" font-size="9" fill="#000" stroke="#000" stroke-width="0.3" >5 Jul 2020</text><text x="-0.5" y="591.5" font-size="9" fill="#000" stroke="#000" stroke-width="0.3" >MACD(12,26,9)</text><text x="67.3" y="591.5" font-size="9" fill="#000" stroke="#000" stroke-width="0.3" >0.2255</text><text x="97.6" y="591.5" font-size="9" fill="#000" stroke="#000" stroke-width="0.3" >-0.0930</text><text x="-0.8" y="763.5" font-size="9" fill="#000" stroke="#000" stroke-width="0.3" >RSI(14)</text><text x="32.6" y="763.5" font-size="9" fill="#000" stroke="#000" stroke-width="0.3" >58.1922</text><text x="8.6" y="35.5" font-size="9" fill="#000" stroke="#000" stroke-width="0.3" textLength="63" lengthAdjust="spacingAndGlyphs" >GBPJPY-,Daily</text><text x="78.3" y="35.5" font-size="9" fill="#000" stroke="#000" stroke-width="0.3" >135.299</text><text x="114.2" y="35.5" font-size="9" fill="#000" stroke="#000" stroke-width="0.3" >135.902</text><text x="150.3" y="35.5" font-size="9" fill="#000" stroke="#000" stroke-width="0.3" >135.034</text><text x="186" y="35.5" font-size="9" fill="#000" stroke="#000" stroke-width="0.3" >135.112</text></g>
<path d="M0,30 L4,34 L0,34 Z" fill="#000"/>
<path d="M1442,25 L1451,25 L1446.5,29.8 Z" fill="#c0c0c0"/>

<defs>
<linearGradient id="gbtn" x1="0" y1="0" x2="0" y2="1"><stop offset="0" stop-color="#fb5858"/><stop offset="1" stop-color="#e23838"/></linearGradient>
<linearGradient id="gbig" x1="0" y1="0" x2="0" y2="1"><stop offset="0" stop-color="#e43a3a"/><stop offset="0.5" stop-color="#cc1818"/><stop offset="1" stop-color="#b00404"/></linearGradient>
<linearGradient id="garr" x1="0" y1="0" x2="0" y2="1"><stop offset="0" stop-color="#f4f4f4"/><stop offset="0.45" stop-color="#e6e6e6"/><stop offset="0.5" stop-color="#d6d6d6"/><stop offset="1" stop-color="#d0d0d0"/></linearGradient>
</defs>
<g shape-rendering="crispEdges">
<rect x="0" y="108" width="217" height="2" fill="#fff"/>
<rect x="0" y="44" width="49" height="25" fill="#c40000"/>
<rect x="0" y="45" width="48" height="23" fill="url(#gbtn)"/>
<rect x="1" y="67" width="44" height="1" fill="#9a0000"/>
<rect x="1" y="68" width="44" height="1" fill="#f06060"/>
<rect x="164" y="44" width="52" height="25" fill="#c40000"/>
<rect x="165" y="45" width="50" height="23" fill="url(#gbtn)"/>
<rect x="168" y="67" width="44" height="1" fill="#9a0000"/>
<rect x="168" y="68" width="44" height="1" fill="#f06060"/>
<rect x="0" y="68" width="106" height="40" fill="#c40000"/>
<rect x="0" y="69" width="105" height="38" fill="url(#gbig)"/>
<rect x="108" y="68" width="108" height="40" fill="#c40000"/>
<rect x="109" y="69" width="106" height="38" fill="url(#gbig)"/>
<rect x="106" y="68" width="2" height="40" fill="#fff"/>
<rect x="1" y="67" width="44" height="1" fill="#9a0000"/>
<rect x="168" y="67" width="44" height="1" fill="#9a0000"/>
<rect x="51" y="44" width="111" height="22" fill="#a8acb4"/>
<rect x="52" y="45" width="109" height="20" fill="#ffffff"/>
<rect x="52" y="45" width="20" height="20" fill="url(#garr)"/>
<rect x="72" y="45" width="1" height="20" fill="#a8acb4"/>
<rect x="140" y="45" width="1" height="20" fill="#a8acb4"/>
<rect x="141" y="45" width="20" height="20" fill="url(#garr)"/>
</g>
<path d="M59,53 L64.5,53 L61.75,56 Z" fill="#4a5fc8"/>
<path d="M148,56 L153.5,56 L150.75,53 Z" fill="#4a5fc8"/>
<text x="9" y="60" font-size="12" fill="#fff0f0" class="pt" textLength="26" lengthAdjust="spacingAndGlyphs">SELL</text>
<text x="177" y="60" font-size="12" fill="#fff0f0" class="pt">BUY</text>
<text x="137" y="59" font-size="12" fill="#000" text-anchor="end" class="pt">1.00</text>
<text x="20" y="99" font-size="12" font-weight="bold" fill="#fff" class="pt">135</text>
<text x="44" y="99" font-size="33" fill="#fff" class="pt" textLength="36" lengthAdjust="spacing">11</text>
<text x="83" y="83" font-size="12" font-weight="bold" fill="#fff" class="pt">2</text>
<text x="130" y="99" font-size="12" font-weight="bold" fill="#fff" class="pt">135</text>
<text x="155" y="99" font-size="33" fill="#fff" class="pt" textLength="36" lengthAdjust="spacingAndGlyphs">16</text>
<text x="194" y="83" font-size="12" font-weight="bold" fill="#fff" class="pt">4</text>

<g><rect x="46" y="1" width="1" height="17" fill="#a8a8a8"/><rect x="282" y="1" width="1" height="17" fill="#a8a8a8"/><rect x="320" y="1" width="1" height="17" fill="#a8a8a8"/><rect x="377" y="1" width="1" height="17" fill="#a8a8a8"/><rect x="467" y="1" width="1" height="17" fill="#a8a8a8"/><rect x="529" y="1" width="1" height="17" fill="#a8a8a8"/><rect x="650" y="1" width="1" height="17" fill="#a8a8a8"/><rect x="717" y="1" width="1" height="17" fill="#a8a8a8"/><rect x="957" y="1" width="1" height="17" fill="#a8a8a8"/><rect x="1217" y="1" width="1" height="17" fill="#a8a8a8"/><rect x="286" y="1" width="3" height="1" fill="#9a9a9a"/><rect x="286" y="3" width="3" height="1" fill="#9a9a9a"/><rect x="286" y="5" width="3" height="1" fill="#9a9a9a"/><rect x="286" y="7" width="3" height="1" fill="#9a9a9a"/><rect x="286" y="9" width="3" height="1" fill="#9a9a9a"/><rect x="286" y="11" width="3" height="1" fill="#9a9a9a"/><rect x="286" y="13" width="3" height="1" fill="#9a9a9a"/><rect x="286" y="15" width="3" height="1" fill="#9a9a9a"/><rect x="654" y="1" width="3" height="1" fill="#9a9a9a"/><rect x="654" y="3" width="3" height="1" fill="#9a9a9a"/><rect x="654" y="5" width="3" height="1" fill="#9a9a9a"/><rect x="654" y="7" width="3" height="1" fill="#9a9a9a"/><rect x="654" y="9" width="3" height="1" fill="#9a9a9a"/><rect x="654" y="11" width="3" height="1" fill="#9a9a9a"/><rect x="654" y="13" width="3" height="1" fill="#9a9a9a"/><rect x="654" y="15" width="3" height="1" fill="#9a9a9a"/><rect x="960" y="1" width="3" height="1" fill="#9a9a9a"/><rect x="960" y="3" width="3" height="1" fill="#9a9a9a"/><rect x="960" y="5" width="3" height="1" fill="#9a9a9a"/><rect x="960" y="7" width="3" height="1" fill="#9a9a9a"/><rect x="960" y="9" width="3" height="1" fill="#9a9a9a"/><rect x="960" y="11" width="3" height="1" fill="#9a9a9a"/><rect x="960" y="13" width="3" height="1" fill="#9a9a9a"/><rect x="960" y="15" width="3" height="1" fill="#9a9a9a"/><rect x="321" y="0" width="24" height="18" fill="#f7f7f7"/><rect x="471" y="0" width="26" height="18" fill="#f7f7f7"/><rect x="500" y="0" width="25" height="18" fill="#f7f7f7"/><rect x="660" y="0" width="25" height="18" fill="#f7f7f7"/><rect x="1135" y="0" width="25" height="18" fill="#f7f7f7"/><rect x="-2" y="1.5" width="10.5" height="13" rx="1" fill="#fff" stroke="#3d7fcc" stroke-width="1"/><rect x="0" y="4" width="8" height="1" fill="#c8d8f4"/><rect x="0" y="6" width="8" height="1" fill="#c8d8f4"/><rect x="0" y="8" width="8" height="1" fill="#c8d8f4"/><rect x="0" y="10" width="8" height="1" fill="#c8d8f4"/><rect x="21.5" y="0.5" width="12" height="13" fill="#fff" stroke="#b4ae98" stroke-width="1"/><path d="M24,3 L24,11 M24,6 L27,5 M30,2 L31,7" stroke="#888" stroke-width="1" fill="none"/><circle cx="29.5" cy="9" r="4.6" fill="#e6f4fb" stroke="#5b92d6" stroke-width="1"/><path d="M28.5,6.5 L28.5,11" stroke="#9ab0c0" stroke-width="1.5"/><path d="M33.5,12.5 L38,17" stroke="#c89a18" stroke-width="2.2"/><path d="M56.5,0.5 L65,0.5 L68,3.5 L68,13.5 L56.5,13.5 Z" fill="#fff" stroke="#7a7a7a" stroke-width="1"/><rect x="58" y="2.5" width="3" height="1.5" fill="#888"/><rect x="58" y="6" width="6" height="1" fill="#888"/><rect x="58" y="8" width="5" height="1" fill="#888"/><rect x="58" y="10" width="4" height="1" fill="#888"/><path d="M64,6.5 H68 V10.5 H72 V14 H68 V17.8 H64 V14 H60.5 V10.5 H64 Z" fill="#1fcf1f" stroke="#0a900a" stroke-width="0.8"/><path d="M78,1.5 L78.6,2.6 M75.5,3.3 L81,3.3 M76.6,4.2 L77.2,5 M80.3,4.2 L79.7,5 M75,5.6 L81.4,5.6 M78,5.6 L78,12 M75.4,8 L81,8 M77.6,9 L75.4,11.2 M78.6,9 L80.6,10.8 M85.5,1.6 L82.2,2.6 M82.2,2.6 L82.2,9 L81.2,11.6 M82.2,5.6 L86,5.6 M84.5,5.6 L84.5,12 M88.2,1.6 L89.2,3 M86.8,5 L88.6,5 L88.6,10.2 L89.8,11.5 M91.4,2.6 L98,2.6 M95,2.6 L95,11.5 L93.6,11.5 M101,1.4 L102,2.6 M106.6,1.4 L105.6,2.6 M100.6,4 L100.6,8.2 M109,4 L109,8.2 M100.6,4 L109,4 M100.6,6.1 L109,6.1 M100.6,8.2 L109,8.2 M104.8,4 L104.8,12 M99,9.8 L111,9.8" stroke="#000" stroke-width="1" fill="none" stroke-linecap="butt" shape-rendering="crispEdges"/><path d="M123.2,9.6 L129,1.6 L138,9 L131.4,15.6 Z" fill="#a86c10"/><path d="M123.6,8.8 L129.2,1.4 L137.6,8.4 L131.2,14.2 Z" fill="#e8bc30"/><path d="M125,8.6 L129.4,2.8 L135.8,8.2" stroke="#f8e090" stroke-width="1" fill="none"/><path d="M124,10.2 L131.4,15 L137.8,9.4" stroke="#d8a040" stroke-width="0.8" fill="none"/><path d="M153,0.5 L156,0 L164,0 L164,9 L153,9 Z" fill="#1e9af6"/><path d="M156.5,0.5 L164,0.5 L164,9 L156.5,9 Z" fill="#48b4fa"/><rect x="158" y="4.5" width="5" height="1.6" fill="#e8f4ff"/><rect x="158" y="2" width="5" height="1" fill="#bfe0ff"/><path d="M152.5,15.3 C150,15.3 150,11.2 153,11.2 C153.5,8.6 157,8 158.8,9.8 C160,7.8 164.2,8 164.2,10.8 C167.6,10.8 167.6,15.3 165,15.3 Z" fill="#e4e8f0" stroke="#4a5e90" stroke-width="1"/><path d="M152,13.6 L166.5,13.6" stroke="#b8c0d4" stroke-width="1.2"/><circle cx="186.8" cy="7.8" r="7.2" fill="none" stroke="#a8c0ee" stroke-width="1"/><path d="M186.8,0.6 A7.2,7.2 0 0 1 190,14.3" fill="none" stroke="#8cc49c" stroke-width="1"/><circle cx="186.8" cy="7.8" r="4.4" fill="none" stroke="#7c9ee6" stroke-width="1"/><path d="M186.8,3.4 A4.4,4.4 0 0 1 190.5,10" fill="none" stroke="#94c8a0" stroke-width="1"/><circle cx="186.8" cy="7.6" r="1.9" fill="#2050c8"/><path d="M187,8 L187,15.6 M187,15.6 A7.6,7.6 0 0 0 193.8,11" stroke="#20a020" stroke-width="1.2" fill="none"/><path d="M206.4,7.2 L221.6,5.4 L214.3,15.4 Z" fill="#f2dc60" stroke="#c89c28" stroke-width="0.9"/><ellipse cx="214" cy="4.6" rx="7.9" ry="2.3" fill="#58ace6" stroke="#2f84c4" stroke-width="0.8"/><path d="M210.5,4 C211,0.5 217,0.5 217.5,4 Z" fill="#7cc4f0"/><circle cx="218.4" cy="11.8" r="4" fill="#d82a18"/><rect x="217" y="10.4" width="2.9" height="2.9" fill="#fff"/><path d="M233,1 L232.2,2.3 M229,3 L237,3 L237,12 L229,12 Z M229,6 L237,6 M229,9 L237,9 M240.6,3 L245,3 M240,6 L245.6,6 M243,6 L241,10 L245.2,9.6 M244.2,8.6 L245.6,11 M246.2,4.6 L251,4.6 L250.6,11.6 L249.6,11.2 M248.6,1.4 L248.2,8 L246.2,12 M257.4,1 L258,2 M252.6,3.6 L263,3.6 M255,5 L253,7 M260,5 L262,7 M255,7.2 L262.4,12 M260.6,7.2 L253,12 M266,1.6 L272,1.6 L272,6 L266,6 Z M266,3.8 L272,3.8 M266.6,6 L264.6,8.4 M265.6,7.6 L274,7.6 L273.6,12 L272.4,11.6 M268.4,7.6 L265.2,12 M271,7.6 L268,12" stroke="#000" stroke-width="1" fill="none" stroke-linecap="butt" shape-rendering="crispEdges"/><path d="M300.5,1.5 L300.5,15.5 M298,13.5 L312,13.5 M299,3.5 L300.5,1.5 L302,3.5 M310,12 L312,13.5 L310,15" stroke="#606060" stroke-width="1" fill="none"/><path d="M306.5,3.5 L306.5,10.5 M304.5,10.5 L306.5,10.5 M306.5,4 L308.5,4" stroke="#20a020" stroke-width="1.2" fill="none"/><path d="M328.5,1.5 L328.5,15.5 M326,13.5 L340,13.5 M327,3.5 L328.5,1.5 L330,3.5 M338,12 L340,13.5 L338,15" stroke="#606060" stroke-width="1" fill="none"/><rect x="332.5" y="2.3" width="4" height="7.5" fill="#28c828" stroke="#138013" stroke-width="0.8"/><path d="M334.5,0 L334.5,2.3 M334.5,9.8 L334.5,11.5" stroke="#138013" stroke-width="1"/><path d="M356.5,1.5 L356.5,15.5 M354,13.5 L368,13.5 M355,3.5 L356.5,1.5 L358,3.5 M366,12 L368,13.5 L366,15" stroke="#606060" stroke-width="1" fill="none"/><path d="M356,11 C359,6 362,4 367,9" stroke="#20a020" stroke-width="1.2" fill="none"/><path d="M396,11 L401,16" stroke="#c8a020" stroke-width="2.4"/><circle cx="392" cy="6" r="5.2" fill="#dff0fb" stroke="#3f86d8" stroke-width="1.2"/><rect x="389" y="5.2" width="6" height="1.8" fill="#3f7fd0"/><rect x="391.1" y="3" width="1.8" height="6" fill="#3f7fd0"/><path d="M424,11 L429,16" stroke="#c8a020" stroke-width="2.4"/><circle cx="420" cy="6" r="5.2" fill="#dff0fb" stroke="#3f86d8" stroke-width="1.2"/><rect x="417" y="5.2" width="6" height="1.8" fill="#3f7fd0"/><rect x="442" y="0" width="8" height="8" rx="1" fill="#3a9a2a"/><rect x="443.5" y="3" width="5" height="4" fill="#f4f8ff"/><rect x="444.5" y="4" width="3" height="1" fill="#3a9a2a" opacity="0.5"/><rect x="443" y="1" width="1" height="1" fill="#e8f0ff"/><rect x="450" y="0" width="8" height="8" rx="1" fill="#2a64d8"/><rect x="451.5" y="3" width="5" height="4" fill="#f4f8ff"/><rect x="452.5" y="4" width="3" height="1" fill="#2a64d8" opacity="0.5"/><rect x="451" y="1" width="1" height="1" fill="#e8f0ff"/><rect x="442" y="8" width="8" height="8" rx="1" fill="#2a64d8"/><rect x="443.5" y="11" width="5" height="4" fill="#f4f8ff"/><rect x="444.5" y="12" width="3" height="1" fill="#2a64d8" opacity="0.5"/><rect x="443" y="9" width="1" height="1" fill="#e8f0ff"/><rect x="450" y="8" width="8" height="8" rx="1" fill="#3a9a2a"/><rect x="451.5" y="11" width="5" height="4" fill="#f4f8ff"/><rect x="452.5" y="12" width="3" height="1" fill="#3a9a2a" opacity="0.5"/><rect x="451" y="9" width="1" height="1" fill="#e8f0ff"/><rect x="472" y="1" width="1" height="17" fill="#a8a8a8"/><rect x="500" y="1" width="1" height="17" fill="#a8a8a8"/><path d="M480.5,1.5 L480.5,15.5 M478,13.5 L492,13.5 M479,3.5 L480.5,1.5 L482,3.5 M490,12 L492,13.5 L490,15" stroke="#606060" stroke-width="1" fill="none"/><path d="M485.5,4.5 L489.5,7.5 L485.5,10.5 Z" fill="#7ce07c" stroke="#18a018" stroke-width="1"/><path d="M508.5,1.5 L508.5,15.5 M506,13.5 L520,13.5 M507,3.5 L508.5,1.5 L510,3.5 M518,12 L520,13.5 L518,15" stroke="#606060" stroke-width="1" fill="none"/><path d="M514.5,2 L514.5,12" stroke="#1a6ab0" stroke-width="1"/><path d="M520,7.5 L516,7.5 M518,5.5 L515.5,7.5 L518,9.5" stroke="#e05010" stroke-width="1.4" fill="none"/><path d="M540,0.5 L547,0.5 L549.5,3 L549.5,13.5 L540,13.5 Z" fill="#fff" stroke="#777" stroke-width="1"/><path d="M543.5,3.5 C542,3.5 542,5 542,6 L542,11" stroke="#555" stroke-width="0.9" fill="none"/><path d="M547.5,6.5 H551 V10.5 H555 V14 H551 V17.5 H547.5 V14 H543.5 V10.5 H547.5 Z" fill="#22d022" stroke="#0a900a" stroke-width="0.8"/><path d="M560.5,7 L565.5,7 L563,10 Z" fill="#222"/><path d="M599.5,7 L604.5,7 L602,10 Z" fill="#222"/><path d="M638.5,7 L643.5,7 L641,10 Z" fill="#222"/><path d="M944.5,7 L949.5,7 L947,10 Z" fill="#222"/><circle cx="585" cy="7.8" r="7" fill="#1464c4"/><circle cx="585" cy="7.8" r="6" fill="#3c90e8"/><circle cx="585" cy="7.8" r="4.6" fill="#f4f6fa"/><path d="M584.8,4.2 L584.8,8 L587.6,8.6" stroke="#333" stroke-width="1" fill="none"/><circle cx="585" cy="1.2" r="1" fill="#1870d0"/><rect x="616.5" y="1.5" width="15" height="13" fill="#fff" stroke="#3a70c8" stroke-width="1"/><rect x="617" y="2" width="14" height="1.5" fill="#7aa4e0"/><rect x="617" y="8.5" width="14" height="1" fill="#5a88d0"/><path d="M618,7 L620,6.5 L622,5.5 L624,6.3 L626,5.6 L628,5.5 L630,5" stroke="#c02010" stroke-width="1" fill="none"/><path d="M618,12.5 L620,12 L622,11.2 L624,12 L626,11 L627.5,10.2 L630,12.6" stroke="#20a020" stroke-width="1" fill="none"/><path d="M668,2 L668,14 L671,11 L673.5,16 L675,15.3 L672.6,10.4 L676.5,10.4 Z" fill="#333"/><path d="M700.5,1 L700.5,15 M693.5,8.5 L707.5,8.5" stroke="#555" stroke-width="1"/><path d="M734.5,4 L734.5,15" stroke="#555" stroke-width="1"/><path d="M757,8.5 L769,8.5" stroke="#555" stroke-width="1"/><path d="M785,15 L797.5,3" stroke="#777" stroke-width="1"/><path d="M811.5,14.5 L823,2.5 M815.5,15 L825,5 M813,10.5 L815,12 M816,8 L818,9.5 M819,5 L821,6.5 M812.5,12 L821.5,3" stroke="#555" stroke-width="1" fill="none"/><path d="M822.5,12.3 L826,12.3 M822.5,14.3 L825.5,14.3 M822.5,16.3 L826,16.3 M822.5,12.3 L822.5,16.3" stroke="#444" stroke-width="1" fill="none"/><path d="M840,1.5 L853,1.5" stroke="#666" stroke-width="1" stroke-dasharray="1 1"/><path d="M840,4.5 L853,4.5" stroke="#666" stroke-width="1" stroke-dasharray="1 1"/><path d="M840,8.5 L853,8.5" stroke="#666" stroke-width="1" stroke-dasharray="1 1"/><path d="M840,12.5 L853,12.5" stroke="#666" stroke-width="1" stroke-dasharray="1 1"/><path d="M850.5,12.3 L854,12.3 M850.5,14.3 L853.5,14.3 M850.5,12.3 L850.5,16.8" stroke="#444" stroke-width="1.1" fill="none"/><text x="870.5" y="13" font-size="12" font-weight="bold" fill="#555">A</text><rect x="897.5" y="2" width="11.5" height="12.5" fill="none" stroke="#666" stroke-width="1" stroke-dasharray="1 1"/><text x="900" y="12.5" font-size="11" font-weight="bold" fill="#555">T</text><path d="M927.5,2.2 L930,4.6 L927.5,7 L925,4.6 Z M935,9 L937.5,11.5 L935,14 L932.5,11.5 Z" fill="#555"/><path d="M926,8.5 L929,11 L933,6.5" stroke="#555" stroke-width="1.3" fill="none"/><text x="971.8" y="11.8" font-size="9" fill="#333">M1</text><text x="999.8" y="11.8" font-size="9" fill="#333">M5</text><text x="1025.8" y="11.8" font-size="9" fill="#333">M15</text><text x="1053" y="11.8" font-size="9" fill="#333">M30</text><text x="1084.5" y="11.8" font-size="9" fill="#333">H1</text><text x="1111" y="11.8" font-size="9" fill="#333">H4</text><text x="1140.5" y="11.8" font-size="9" fill="#333">D1</text><text x="1167.5" y="11.8" font-size="9" fill="#333">W1</text><text x="1194.5" y="11.8" font-size="9" fill="#333">MN</text><path d="M1685,7.8 L1680.3,12.6" stroke="#2e5fd0" stroke-width="2.2"/><circle cx="1687.3" cy="5.3" r="3.8" fill="#f4f6fc" stroke="#2a5ed4" stroke-width="1.3"/><path d="M1719,9.2 L1722.8,11.5 L1722,8.8 Z" fill="#666"/><ellipse cx="1720.3" cy="5" rx="6.4" ry="4.6" fill="#e6e6ea" stroke="#7a7a7a" stroke-width="0.9"/><path d="M1710.5,12 L1708.6,14.6 L1713.5,12.6 Z" fill="#666"/><ellipse cx="1711.3" cy="9.2" rx="5.2" ry="4" fill="#ececf0" stroke="#7a7a7a" stroke-width="0.9"/></g>
</svg>
</body></html>
